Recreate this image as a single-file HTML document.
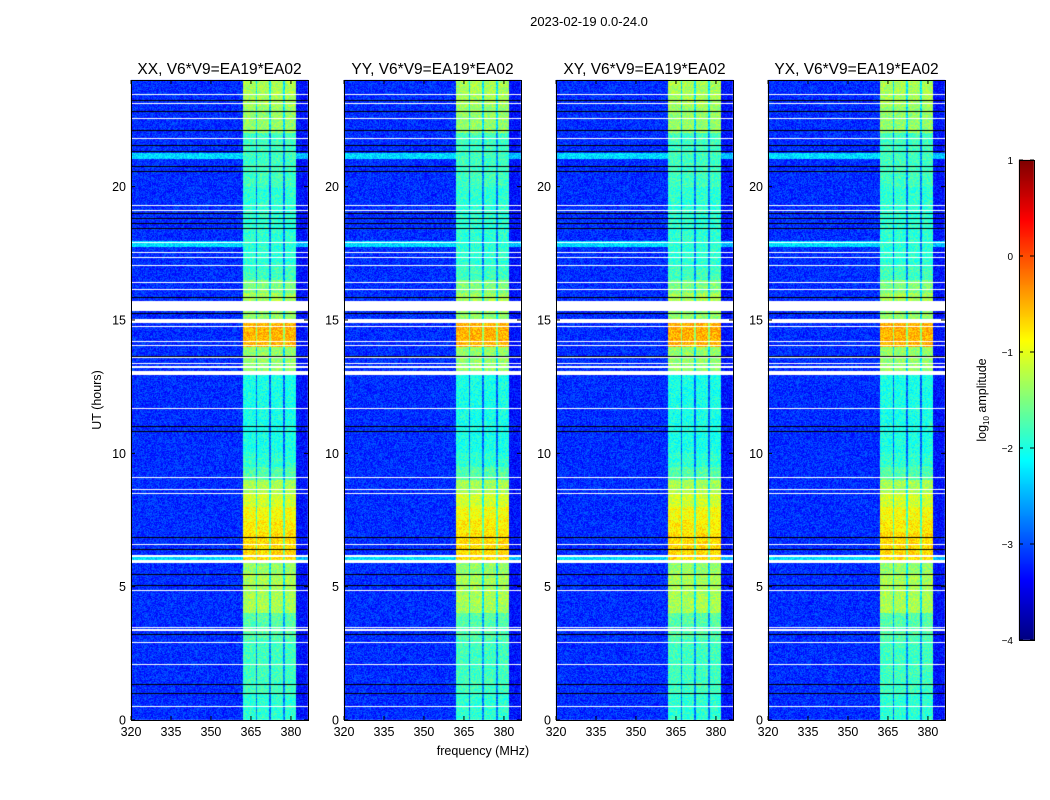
<!DOCTYPE html>
<html><head><meta charset="utf-8"><style>
body{margin:0;background:#fff;}
#wrap{position:relative;width:1050px;height:800px;overflow:hidden;font-family:"Liberation Sans",sans-serif;}
canvas,svg{position:absolute;left:0;top:0;}
</style></head><body>
<div id="wrap">
<canvas id="cv" width="1050" height="800"></canvas>
<svg id="sv" width="1050" height="800"></svg>
</div>
<script>
// ---- data ----
const panelTitles = ["XX, V6*V9=EA19*EA02","YY, V6*V9=EA19*EA02","XY, V6*V9=EA19*EA02","YX, V6*V9=EA19*EA02"];
const xTicks = [320,335,350,365,380];
const yTicks = [0,5,10,15,20];
const cbTicks = [1,0,-1,-2,-3,-4];
// band (362-382 MHz) log10 amplitude per 0.5 h bin, 0..24 h
const bandLevel = [-1.9,-1.9,-1.8,-1.8,-1.8,-1.8,-1.7,-1.7,-1.3,-1.3,-1.3,-1.4,-0.7,-0.7,-0.8,-0.9,-1.1,-1.3,-1.7,-1.9,
  -2.0,-2.0,-2.0,-2.0,-2.0,-2.0,-1.4,-1.4,-0.5,-0.5,-1.4,-1.3,-1.5,-1.8,-1.9,-1.9,-1.9,-1.9,-1.9,-1.9,
  -1.8,-1.8,-1.8,-1.8,-1.4,-1.4,-1.3,-1.3];
const bgLevel = -3.15;
const subBands = [[362,366.8],[367.4,371.9],[372.5,377.0],[377.7,382.0]];
const whiteLines = [23.44,23.1,22.57,21.79,19.31,19.09,17.89,17.55,17.33,17.06,16.39,16.16,14.74,14.21,14.06,13.58,11.7,9.08,8.63,8.48,6.6,4.84,2.89,2.1,0.49];
const whiteRanges = [[15.35,15.7],[14.9,15.05],[12.95,13.1],[13.2,13.26],[13.35,13.4],[5.9,6.0],[6.12,6.2],[3.35,3.4],[3.45,3.5]];
const blackLines = [23.25,22.8,22.1,21.56,21.33,20.77,20.55,18.98,18.8,18.6,18.45,15.85,15.25,13.65,10.99,10.8,6.86,6.41,5.44,5.06,3.19,1.35,1.01];
const cyanBands = [[21.05,21.25],[17.75,17.95],[5.95,6.1]];

// ---- helpers ----
const panelX = [131,344,556,768], pTop=80, pW=177, pH=640;
const fMin=320, fMax=386.4, tMin=0, tMax=24;
function xScale(f,i){return panelX[i]+(f-fMin)/(fMax-fMin)*pW;}
function yScale(t){return pTop+pH-(t-tMin)/(tMax-tMin)*pH;}
function jet(v){
  function c(x){return Math.max(0,Math.min(1,x));}
  const r=c(1.5-Math.abs(4*v-3)), g=c(1.5-Math.abs(4*v-2)), b=c(1.5-Math.abs(4*v-1));
  return [r*255|0,g*255|0,b*255|0];
}
function norm(l){return (l+4)/5;}
function inRange(t,list){for(const r of list){if(t>=r[0]&&t<=r[1])return true;}return false;}
function rowOf(t){return Math.floor((tMax-t)/(tMax-tMin)*pH);}
function hash(a,b){let h=(a*374761393+b*668265263)>>>0;h=((h^(h>>>13))*1274126177)>>>0;return ((h^(h>>>16))&1023)/1023;}

const rowKind=new Array(pH).fill(0);
for(const t of whiteLines) rowKind[rowOf(t)]=1;
for(const t of blackLines) rowKind[rowOf(t)]=2;

const cv=document.getElementById('cv'), ctx=cv.getContext('2d');
const hpp=(tMax-tMin)/pH;
for(let i=0;i<4;i++){
const img=ctx.createImageData(pW,pH);
for(let py=0;py<pH;py++){
  const t=tMax-(py+0.5)*hpp;
  const bin=Math.min(bandLevel.length-1,Math.floor(t/0.5));
  let rowType=rowKind[py];
  if(inRange(t,whiteRanges)) rowType=1;
  const cyan=inRange(t,cyanBands);
  for(let px=0;px<pW;px++){
    const f=fMin+(px+0.5)/pW*(fMax-fMin);
    let col;
    if(rowType===1) col=[255,255,255];
    else if(rowType===2) col=[0,0,0];
    else{
      let lvl=cyan?-2.3:bgLevel;
      let inB=false, inRangeBand=(f>=subBands[0][0]&&f<=subBands[subBands.length-1][1]);
      for(const b of subBands){if(f>=b[0]&&f<=b[1])inB=true;}
      if(inB) lvl=bandLevel[bin];
      else if(inRangeBand) lvl=bandLevel[bin]-0.9;
      else if(f>382) lvl=lvl-0.15;
      const n=hash(px+i*1000,py)-0.5;
      lvl+=n*0.55;
      col=jet(Math.max(0,Math.min(1,norm(lvl))));
    }
    const k=(py*pW+px)*4;
    img.data[k]=col[0];img.data[k+1]=col[1];img.data[k+2]=col[2];img.data[k+3]=255;
  }
}
ctx.putImageData(img,panelX[i],pTop);
}
// colorbar
const cbX=1019,cbY=160,cbW=15,cbH=480;
for(let y=0;y<cbH;y++){const c=jet(1-y/cbH);ctx.fillStyle=`rgb(${c[0]},${c[1]},${c[2]})`;ctx.fillRect(cbX,cbY+y,cbW,1);}

// ---- SVG overlay ----
const sv=document.getElementById('sv'), NS="http://www.w3.org/2000/svg";
function el(tag,attrs,text){const e=document.createElementNS(NS,tag);for(const k in attrs)e.setAttribute(k,attrs[k]);if(text!==undefined)e.textContent=text;sv.appendChild(e);return e;}
let e=el('text',{x:589,y:26,'text-anchor':'middle','font-size':13},'2023-02-19 0.0-24.0');


for(let i=0;i<4;i++){
  const x0=panelX[i];
  e=el('rect',{x:x0+0.5,y:pTop+0.5,width:pW,height:pH,fill:'none',stroke:'#000','stroke-width':1});
  
  
  e=el('text',{x:x0+pW/2,y:74,'text-anchor':'middle','font-size':15.5},panelTitles[i]);
  
  
  for(const f of xTicks){
    const x=xScale(f,i);
    el('line',{x1:x,x2:x,y1:pTop+pH,y2:pTop+pH-4,stroke:'#000'});
    el('line',{x1:x,x2:x,y1:pTop,y2:pTop+4,stroke:'#000'});
    e=el('text',{x:x,y:736,'text-anchor':'middle','font-size':12.5},String(f));
    
    
  }
  for(const t of yTicks){
    const y=yScale(t);
    el('line',{x1:x0,x2:x0+4,y1:y,y2:y,stroke:'#000'});
    el('line',{x1:x0+pW,x2:x0+pW-4,y1:y,y2:y,stroke:'#000'});
    e=el('text',{x:x0-5,y:y+4.5,'text-anchor':'end','font-size':12.5},String(t));
    
    
  }
}
e=el('text',{x:483,y:755,'text-anchor':'middle','font-size':12.5},'frequency (MHz)');


e=el('text',{x:0,y:0,'text-anchor':'middle','font-size':12.5,transform:'translate(101,400) rotate(-90)'},'UT (hours)');


e=el('rect',{x:cbX+0.5,y:cbY+0.5,width:cbW,height:cbH,fill:'none',stroke:'#000'});


for(const v of cbTicks){
  const y=cbY+(1-v)/5*cbH;
  el('line',{x1:cbX,x2:cbX+4,y1:y,y2:y,stroke:'#000'});
  el('line',{x1:cbX+cbW,x2:cbX+cbW-4,y1:y,y2:y,stroke:'#000'});
  e=el('text',{x:1013,y:y+4,'text-anchor':'end','font-size':10},v<0?'\u2212'+(-v):String(v));
  
  
}
e=el('text',{x:0,y:0,'text-anchor':'middle','font-size':12.5,transform:'translate(986,400) rotate(-90)'});


e.innerHTML='log<tspan font-size="8" dy="3">10</tspan><tspan dy="-3"> amplitude</tspan>';
</script>
</body></html>
